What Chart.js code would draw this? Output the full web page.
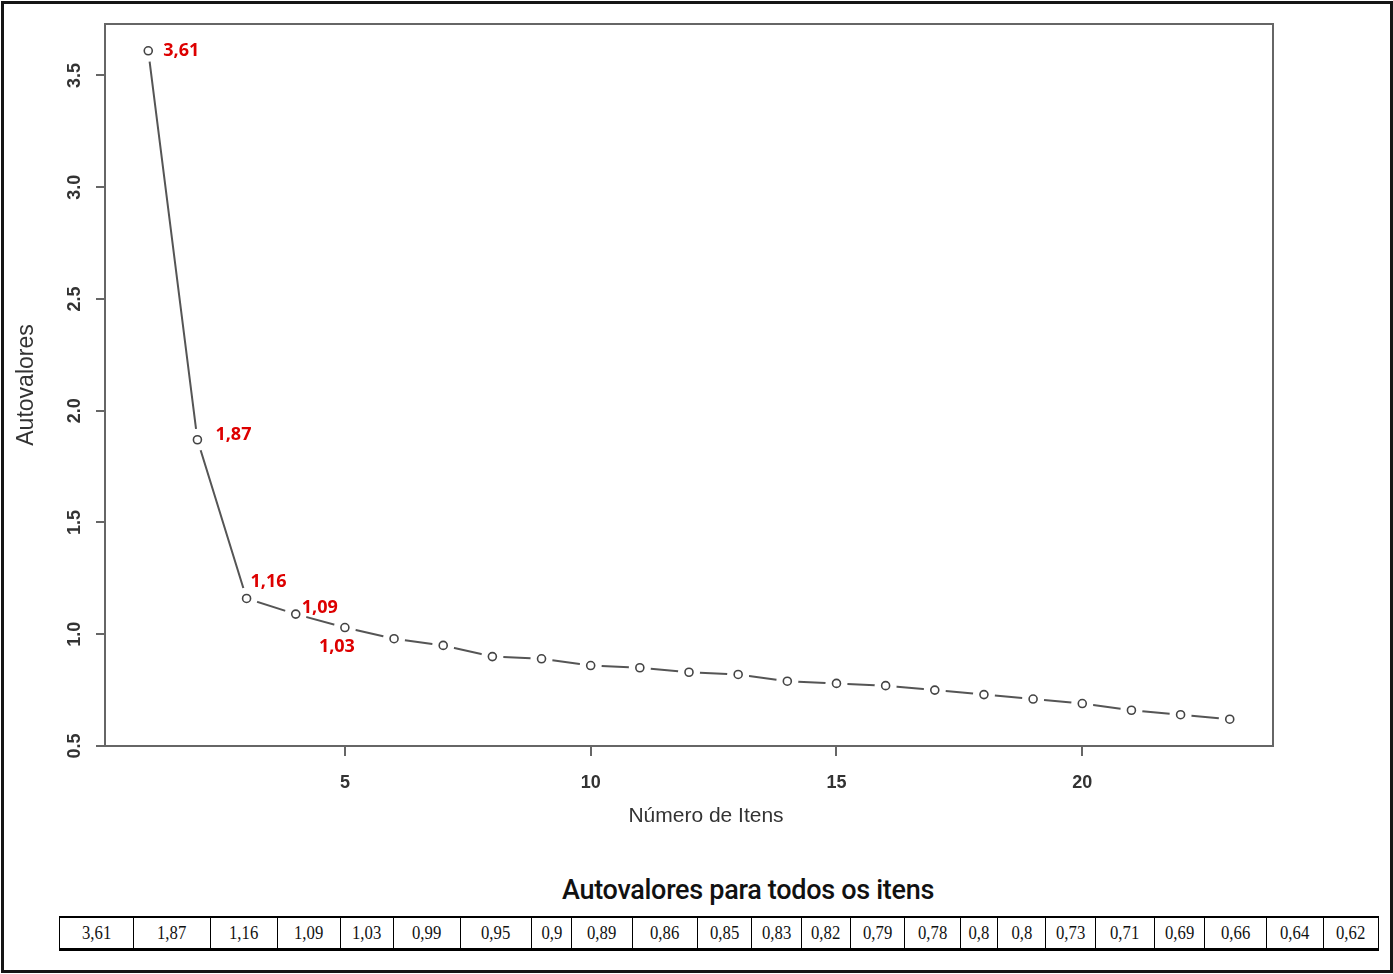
<!DOCTYPE html>
<html>
<head>
<meta charset="utf-8">
<script src="https://cdn.jsdelivr.net/npm/chart.js@4.4.1/dist/chart.umd.min.js"></script>
<style>
  html, body { margin: 0; padding: 0; background: #fff; overflow: hidden; }
  body { position: relative; width: 1393px; height: 974px; }
  #scree { position: absolute; left: 0; top: 0; }
  .frame {
    position: absolute; left: 1px; top: 1px; width: 1386px; height: 966px;
    border: 3px solid #151515; pointer-events: none;
  }
  .table-title {
    position: absolute; left: 0; top: 873px; width: 1496px; text-align: center;
    font-family: Roboto, "Liberation Sans", sans-serif; font-weight: 500; font-size: 27px;
    letter-spacing: -0.3px; color: #111; line-height: 34px; white-space: nowrap;
  }
  #values {
    position: absolute; left: 59px; top: 916px; width: 1319px; height: 35px;
    border-collapse: collapse; table-layout: fixed;
    border-top: 2px solid #000; border-bottom: 3px solid #000;
  }
  #values td {
    border: 1.5px solid #000; text-align: center; padding: 0;
    font-family: "Liberation Serif", "DejaVu Serif", serif; font-size: 19px; color: #111;
  }
  #values td span { display: inline-block; transform: scaleX(0.88); }
</style>
</head>
<body>
<canvas id="scree" width="1393" height="850"></canvas>
<div class="table-title">Autovalores para todos os itens</div>
<table id="values"><colgroup id="cols"></colgroup><tr id="valueRow"></tr></table>
<div class="frame"></div>

<script>
// item numbers (x axis)
const items = [1, 2, 3, 4, 5, 6, 7, 8, 9, 10, 11, 12, 13, 14, 15, 16, 17, 18, 19, 20, 21, 22, 23];
// eigenvalues as plotted
const eigenvalues = [3.61, 1.87, 1.16, 1.09, 1.03, 0.98, 0.95, 0.90, 0.89, 0.86, 0.85, 0.83,
  0.82, 0.79, 0.78, 0.77, 0.75, 0.73, 0.71, 0.69, 0.66, 0.64, 0.62];
// values as written in the table under the chart
const tableValues = ["3,61", "1,87", "1,16", "1,09", "1,03", "0,99", "0,95", "0,9", "0,89", "0,86",
  "0,85", "0,83", "0,82", "0,79", "0,78", "0,8", "0,8", "0,73", "0,71", "0,69", "0,66", "0,64", "0,62"];
// red labels on the first points
const labelledPoints = [0, 1, 2, 3, 4];
const pointLabels = ["3,61", "1,87", "1,16", "1,09", "1,03"];
const xTicks = [5, 10, 15, 20];
const yTicks = [0.5, 1.0, 1.5, 2.0, 2.5, 3.0, 3.5];

// table cell widths (px), uneven like the original
const cellWidths = [74, 77, 67, 63, 53, 67, 71, 40, 61, 65, 54, 50, 49, 54, 56, 37, 48, 50, 59, 50, 62, 57, 55];

const cols = document.getElementById("cols");
const row = document.getElementById("valueRow");
tableValues.forEach((v, i) => {
  const col = document.createElement("col");
  col.style.width = cellWidths[i] + "px";
  cols.appendChild(col);
  const td = document.createElement("td");
  td.innerHTML = "<span>" + v + "</span>";
  row.appendChild(td);
});

const points = items.map((x, i) => ({ x: x, y: eigenvalues[i] }));

// label offsets from the point centre: dx, dy
const labelOffsets = [[15, 0], [18, -5], [4, -17], [6, -6], [-26, 19]];

const boxAndLabels = {
  id: "boxAndLabels",
  afterDraw(chart) {
    const { ctx, chartArea: a, scales } = chart;
    ctx.save();
    ctx.strokeStyle = "#666";
    ctx.lineWidth = 2;
    ctx.strokeRect(a.left, a.top, a.right - a.left, a.bottom - a.top);

    // y tick labels rotated like R's default
    ctx.fillStyle = "#333";
    ctx.font = 'bold 18px "Liberation Sans", Arial, sans-serif';
    ctx.textAlign = "center";
    ctx.textBaseline = "middle";
    scales.y.ticks.forEach(t => {
      const py = scales.y.getPixelForValue(t.value);
      ctx.save();
      ctx.translate(a.left - 30, py);
      ctx.rotate(-Math.PI / 2);
      ctx.fillText(t.value.toFixed(1), 0, 0);
      ctx.restore();
    });

    // x axis title, sits a little right of centre in the original
    ctx.font = '21px "Liberation Sans", Arial, sans-serif';
    ctx.fillText("Número de Itens", (a.left + a.right) / 2 + 17, a.bottom + 70);

    // red value labels
    const meta = chart.getDatasetMeta(0);
    ctx.fillStyle = "#dd0000";
    ctx.font = 'bold 18px "Open Sans", "DejaVu Sans", sans-serif';
    ctx.textAlign = "left";
    labelledPoints.forEach((idx, k) => {
      const p = meta.data[idx];
      ctx.fillText(pointLabels[k], p.x + labelOffsets[k][0], p.y + labelOffsets[k][1]);
    });
    ctx.restore();
  }
};

new Chart(document.getElementById("scree"), {
  type: "scatter",
  data: {
    datasets: [
      {
        // open circles
        data: points,
        showLine: false,
        pointRadius: 4,
        pointHoverRadius: 4,
        pointBorderWidth: 1.6,
        pointBorderColor: "#444",
        pointBackgroundColor: "#fff",
        order: 1
      },
      {
        // connecting line, white discs cut the gaps round the points
        data: points,
        showLine: true,
        borderColor: "#555",
        borderWidth: 2,
        tension: 0,
        pointRadius: 11,
        pointHoverRadius: 11,
        pointBorderWidth: 0,
        pointBorderColor: "#fff",
        pointBackgroundColor: "#fff",
        order: 2
      }
    ]
  },
  options: {
    responsive: false,
    animation: false,
    layout: { padding: { left: 13, top: 24, right: 120, bottom: 17 } },
    plugins: { legend: { display: false }, tooltip: { enabled: false } },
    scales: {
      x: {
        type: "linear",
        min: 0.12,
        max: 23.88,
        afterBuildTicks: s => { s.ticks = xTicks.map(v => ({ value: v })); },
        afterFit: s => { s.height = 87; },
        border: { display: false },
        grid: { drawOnChartArea: false, drawTicks: true, tickLength: 10, color: "#666", lineWidth: 2 },
        ticks: {
          color: "#333",
          padding: 16,
          maxRotation: 0,
          font: { family: '"Liberation Sans", Arial, sans-serif', size: 18, weight: "bold" }
        },
        title: { display: false }
      },
      y: {
        type: "linear",
        min: 0.5,
        max: 3.73,
        afterBuildTicks: s => { s.ticks = yTicks.map(v => ({ value: v })); },
        afterFit: s => { s.width = 92; },
        border: { display: false },
        grid: { drawOnChartArea: false, drawTicks: true, tickLength: 9, color: "#666", lineWidth: 2 },
        ticks: { display: false },
        title: {
          display: true,
          text: "Autovalores",
          color: "#333",
          padding: 0,
          font: { family: '"Liberation Sans", Arial, sans-serif', size: 23 }
        }
      }
    }
  },
  plugins: [boxAndLabels]
});
</script>
</body>
</html>
